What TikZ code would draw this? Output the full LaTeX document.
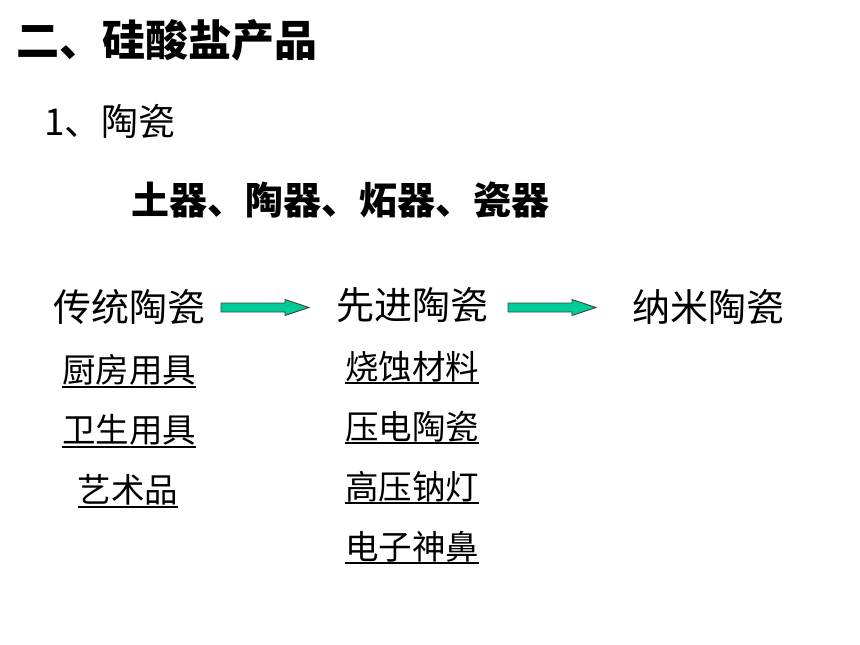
\documentclass[tikz,border=0pt]{standalone}
\usepackage{fontspec}
\newfontfamily\cjk{Noto Sans CJK SC}
\usetikzlibrary{calc}
\definecolor{arrowgreen}{RGB}{0,204,153}
\tikzset{
  txt/.style={inner sep=0pt, font=\cjk},
  ttl/.style={txt, font=\cjk\bfseries\fontsize{43}{50}\selectfont, anchor=base west},
  sub/.style={txt, font=\cjk\fontsize{37}{44}\selectfont, anchor=base west},
  kinds/.style={txt, font=\cjk\bfseries\fontsize{38}{46}\selectfont, anchor=base west},
  stage/.style={txt, font=\cjk\fontsize{38}{46}\selectfont, anchor=base},
  item/.style={txt, font=\cjk\fontsize{33.5}{40}\selectfont, anchor=base},
  uline/.style={line width=1.6pt, black},
  blk/.style={fill=arrowgreen, draw=black!75, line width=0.8pt, line join=miter}
}
\newcommand{\blockarrow}[2]{%
  \draw[blk] ($(#1)+(0,-4.5)$) -- ($(#2)+(-24,-4.5)$) -- ($(#2)+(-24,-8)$) -- (#2)
    -- ($(#2)+(-24,8)$) -- ($(#2)+(-24,4.5)$) -- ($(#1)+(0,4.5)$) -- cycle;}
\begin{document}
\begin{tikzpicture}[x=1pt,y=-1pt]
\useasboundingbox[fill=white] (0,0) rectangle (860,645);
\node[ttl] (title) at (16,56) {二、硅酸盐产品};
\node[sub] (ceramic) at (44,135) {1、陶瓷};
\node[kinds] (kinds) at (131,214.5) {土器、陶器、炻器、瓷器};

\node[stage] (t1) at (129,321.5) {传统陶瓷};
\node[stage] (t2) at (412,319.5) {先进陶瓷};
\node[stage] (t3) at (708,321.5) {纳米陶瓷};

\coordinate (a1s) at (221,307.5);
\coordinate (a1e) at (309,307.5);
\coordinate (a2s) at (508,307.5);
\coordinate (a2e) at (596,307.5);
\blockarrow{a1s}{a1e}
\blockarrow{a2s}{a2e}

\node[item] (c1) at (129,382.7) {厨房用具};
\node[item] (c2) at (129,442.7) {卫生用具};
\node[item] (c3) at (128,502.7) {艺术品};
\node[item] (d1) at (412,379.7) {烧蚀材料};
\node[item] (d2) at (412,439.7) {压电陶瓷};
\node[item] (d3) at (412,499.7) {高压钠灯};
\node[item] (d4) at (412,559.7) {电子神鼻};

\foreach \n/\y in {c1/387,c2/447,c3/507,d1/383,d2/443,d3/503,d4/563}{
  \draw[uline] (\n.west |- 0,\y) -- (\n.east |- 0,\y);
}
\end{tikzpicture}
\end{document}
